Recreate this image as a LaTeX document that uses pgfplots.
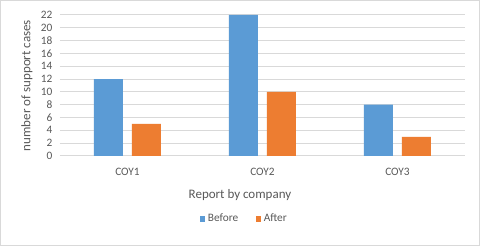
\documentclass[border=0pt]{standalone}
\usepackage{pgfplots}
\pgfplotsset{compat=1.18}
\usepackage{fontspec}
\setmainfont{Carlito}
\definecolor{cblue}{HTML}{5B9BD5}
\definecolor{corange}{HTML}{ED7D31}
\definecolor{cgrid}{HTML}{D9D9D9}
\definecolor{ctext}{HTML}{595959}
\begin{document}
\begin{tikzpicture}
\useasboundingbox (0,0) rectangle (360pt,184.5pt);
\fill[white] (0,0) rectangle (360pt,184.5pt);
\draw[cgrid, line width=0.75pt] (0.375pt,0.375pt) rectangle (359.625pt,184.125pt);
\begin{axis}[
  at={(45pt,67.5pt)}, anchor=south west,
  scale only axis,
  width=303.75pt, height=105.75pt,
  xmin=-0.5, xmax=2.5, ymin=0, ymax=22,
  xtick={0,1,2}, xticklabels={COY1,COY2,COY3},
  ytick={0,2,...,22},
  major tick length=0pt,
  axis line style={draw=none},
  ymajorgrids, grid style={cgrid, line width=0.75pt},
  /pgf/number format/assume math mode=true,
  tick label style={font=\fontsize{8.5}{10}\selectfont, text=ctext},
  yticklabel style={inner sep=0pt, anchor=east, xshift=-5.5pt},
  xticklabel style={inner sep=0pt, anchor=center, yshift=-12pt},
  xlabel={Report by company},
  ylabel={number of support cases},
  label style={font=\fontsize{9.75}{11}\selectfont, text=ctext},
  xlabel style={at={(axis description cs:0.4444,0)}, anchor=center, yshift=-29.25pt},
  ylabel style={at={(axis description cs:-0.0815,0.5)}, anchor=center},
  legend style={at={(0.4556,0)}, anchor=center, yshift=-47.25pt, draw=none, fill=none,
    font=\fontsize{8.5}{10}\selectfont, text=ctext, legend columns=2,
    /tikz/every even column/.append style={column sep=11pt}},
  legend cell align=left,
  legend image code/.code={\fill[#1] (0pt,-2.1pt) rectangle (4.2pt,2.1pt);},
  clip=false,
]
\addplot[ybar, fill=cblue, draw=none, bar width=21.75pt, bar shift=-14.25pt]
  coordinates {(0,12) (1,22) (2,8)};
\addlegendentry{Before}
\addplot[ybar, fill=corange, draw=none, bar width=21.75pt, bar shift=14.25pt]
  coordinates {(0,5) (1,10) (2,3)};
\addlegendentry{After}
\end{axis}
\end{tikzpicture}
\end{document}
